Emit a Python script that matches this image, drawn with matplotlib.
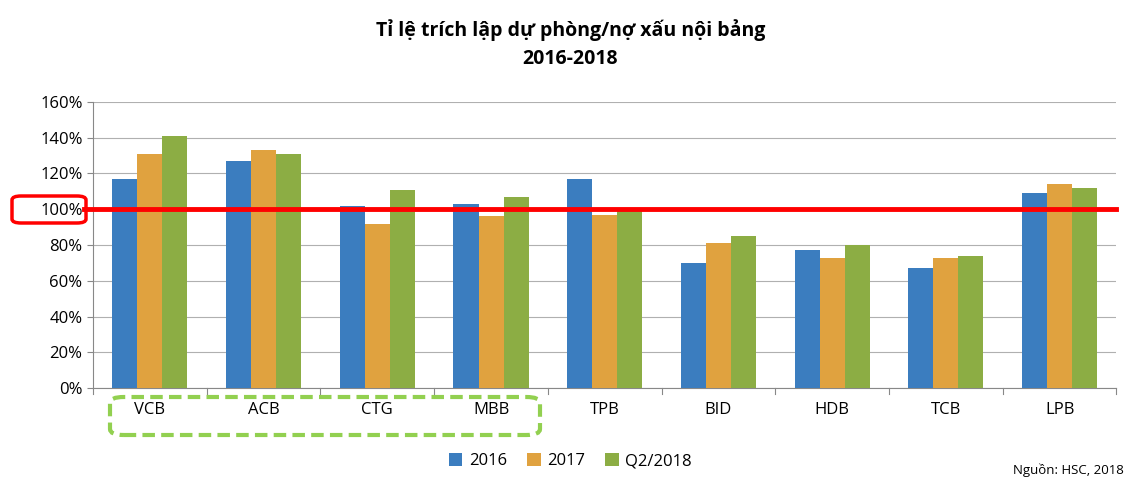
import matplotlib
matplotlib.use("Agg")
import matplotlib.pyplot as plt
import numpy as np
from matplotlib.patches import FancyBboxPatch

plt.rcParams['font.family'] = ['Open Sans', 'DejaVu Sans']

categories = ["VCB", "ACB", "CTG", "MBB", "TPB", "BID", "HDB", "TCB", "LPB"]
s2016 = [117, 127, 102, 103, 117, 70, 77, 67, 109]
s2017 = [131, 133, 92, 96, 97, 81, 73, 73, 114]
sq2 = [141, 131, 111, 107, 99, 85, 80, 74, 112]
series_names = ["2016", "2017", "Q2/2018"]
colors = ["#3b7dbf", "#e0a23f", "#8cad44"]
yticks = [0, 20, 40, 60, 80, 100, 120, 140, 160]

fig = plt.figure(figsize=(11.41, 4.95), dpi=100)
ax = fig.add_axes([0.0815, 0.216, 0.897, 0.578])
x = np.arange(len(categories))
w = 0.22
for i, (vals, c, n) in enumerate(zip([s2016, s2017, sq2], colors, series_names)):
    ax.bar(x + (i - 1) * w, vals, w, color=c, label=n, zorder=3)

ax.set_xlim(-0.5, len(categories) - 0.5)
ax.set_ylim(0, 160)
ax.set_yticks(yticks)
ax.set_yticklabels([f"{v}%" for v in yticks], fontsize=12)
ax.yaxis.grid(True, color="#b0b0b0", linewidth=0.8, zorder=0)
ax.set_xticks(x)
ax.set_xticklabels(categories, fontsize=12)
ax.tick_params(axis='x', length=0, pad=10)
ax.tick_params(axis='y', length=4, color="#888888")
for s in ["top", "right"]:
    ax.spines[s].set_visible(False)
ax.spines["left"].set_color("#888888")
ax.spines["bottom"].set_color("#888888")
for b in np.arange(-0.5, len(categories), 1.0):
    ax.plot([b, b], [0, -3.5], color="#888888", lw=0.8, clip_on=False)

ax.plot([-0.58, len(categories) - 0.5], [100, 100], color="#ff0000", lw=3.5, zorder=4, clip_on=False)

fig.text(0.5, 0.94, "Tỉ lệ trích lập dự phòng/nợ xấu nội bảng", ha="center", va="center",
         fontsize=14, fontweight="bold")
fig.text(0.5, 0.88, "2016-2018", ha="center", va="center", fontsize=14, fontweight="bold")

# red box around 100%
fig.patches.append(FancyBboxPatch((12/1141, 1-223/495), 74/1141, 27/495,
                                  boxstyle="round,pad=0,rounding_size=0.008",
                                  transform=fig.transFigure, fill=False, ec="#ff0000", lw=2.5))
# green dashed box
fig.patches.append(FancyBboxPatch((110/1141, 1-435/495), 430/1141, 38/495,
                                  boxstyle="round,pad=0,rounding_size=0.012",
                                  transform=fig.transFigure, fill=False, ec="#92d050",
                                  lw=3, ls=(0, (3, 1.5))))

fig.legend(loc="center", bbox_to_anchor=(0.5, 0.068), ncol=3, frameon=False, fontsize=12,
           handlelength=0.8, handleheight=0.8, columnspacing=1.2, handletextpad=0.4)
fig.text(0.985, 0.05, "Nguồn: HSC, 2018", ha="right", va="center", fontsize=9.5)

fig.savefig("out.png", dpi=100)
